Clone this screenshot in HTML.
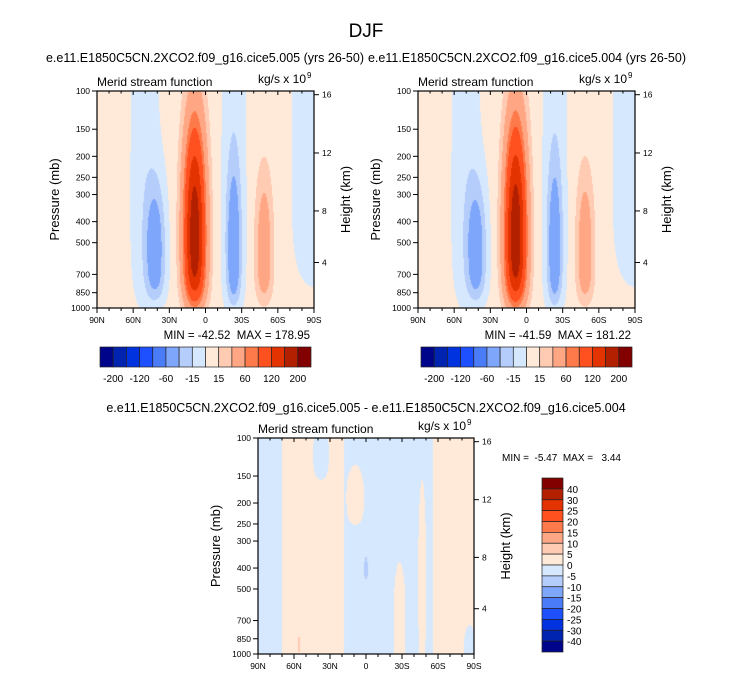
<!DOCTYPE html>
<html><head><meta charset="utf-8">
<style>
html,body{margin:0;padding:0;background:#fff;}
#wrap{position:relative;width:733px;height:678px;overflow:hidden;font-family:"Liberation Sans",Arial,sans-serif;}
canvas{position:absolute;}
svg{position:absolute;left:0;top:0;}
text{font-family:"Liberation Sans",Arial,sans-serif;fill:#000;white-space:pre;}
</style></head>
<body>
<div id="wrap">
<canvas id="c1" width="217" height="217" style="left:97px;top:91px"></canvas>
<canvas id="c2" width="217" height="217" style="left:418px;top:91px"></canvas>
<canvas id="c3" width="216" height="216" style="left:258px;top:438px"></canvas>
<svg id="svg" width="733" height="678" xmlns="http://www.w3.org/2000/svg">
<text x="366" y="37" font-size="19" text-anchor="middle">DJF</text>
<text x="205" y="62" font-size="12.5" text-anchor="middle">e.e11.E1850C5CN.2XCO2.f09_g16.cice5.005 (yrs 26-50)</text>
<text x="527" y="62" font-size="12.5" text-anchor="middle">e.e11.E1850C5CN.2XCO2.f09_g16.cice5.004 (yrs 26-50)</text>
<text x="366" y="412" font-size="12.5" text-anchor="middle">e.e11.E1850C5CN.2XCO2.f09_g16.cice5.005 - e.e11.E1850C5CN.2XCO2.f09_g16.cice5.004</text>
</svg>
</div>
<script>
// colour levels
const levelsMain = [-200,-160,-120,-80,-60,-30,-15,0,15,30,60,80,120,160,200];
const levelsDiff = [-40,-30,-25,-20,-15,-10,-5,0,5,10,15,20,25,30,40];
const mainLabels = ['-200','-120','-60','-15','15','60','120','200'];
const diffLabels = ['40','30','25','20','15','10','5','0','-5','-10','-15','-20','-25','-30','-40'];
const palette = ['#00048a','#0023b0','#0033e0','#1e50ff','#4a7cf8','#7ea6fa','#b4cdfb','#d6e8fd','#ffeada','#ffcbb2','#ffa784','#ff7a4a','#ff5020','#e23300','#b32000','#830000'];
const pressTicks = [100,150,200,250,300,400,500,700,850,1000];
const heightTicks = [16,12,8,4];
const heightPress = [104,193,357,617];
const latTicks = ['90N','60N','30N','0','30S','60S','90S'];

// panel 1 cells: lat centre, pressure-fraction centre, amplitude, widths
const p1Base = 5;
const p1Lat  = [9, 41.4, 50.4, -23.4, -23.4, -48.6, -90];
const p1Y    = [0.64, 0.72, 0.5, 0.72, 0.5, 0.72, 0.4];
const p1Amp  = [182, -46, -14, -44, -14, 42, -14];
const p1Sx   = [0.05, 0.045, 0.065, 0.033, 0.055, 0.04, 0.1];
const p1Su   = [0.5, 0.3, 2, 0.38, 2, 0.35, 2];
const p1Sd   = [0.34, 0.24, 0.5, 0.26, 0.5, 0.25, 0.5];

const p2Base = 5;
const p2Lat  = [9, 41.4, 50.4, -23.4, -23.4, -48.6, -90];
const p2Y    = [0.64, 0.72, 0.5, 0.72, 0.5, 0.72, 0.4];
const p2Amp  = [185, -45, -14, -43, -14, 43, -14];
const p2Sx   = [0.05, 0.045, 0.065, 0.033, 0.055, 0.04, 0.1];
const p2Su   = [0.5, 0.3, 2, 0.38, 2, 0.35, 2];
const p2Sd   = [0.34, 0.24, 0.5, 0.26, 0.5, 0.25, 0.5];

// panel 3: zonal bands + islands
const p3BandEdges = [90, 70.2, 18, -55.8, -90];
const p3BandVals  = [-2, 2, -2, 2];
const p3Lat  = [37.5, 9, -28, -46.8, 0, -86.4, 55.8];
const p3Y    = [0.05, 0.26, 0.8, 0.6, 0.6, 0.95, 0.95];
const p3Amp  = [-4.5, 4.5, 4.5, 4.5, -6, -4, 4];
const p3Sx   = [0.04, 0.045, 0.03, 0.02, 0.01, 0.03, 0.01];
const p3Su   = [0.12, 0.15, 0.25, 0.45, 0.06, 0.1, 0.06];
const p3Sd   = [0.15, 0.15, 0.3, 0.5, 0.06, 0.1, 0.06];

const latX = lat => (90 - lat) / 180;
function blobVal(x,y,lat,cy,A,sx,su,sd){
  let s=0;
  for(let k=0;k<lat.length;k++){
    const dx=(x-latX(lat[k]))/sx[k];
    const gx=Math.exp(-dx*dx);
    let gy;
    if(y<cy[k]){const d=(cy[k]-y)/su[k];gy=Math.exp(-d*d);}
    else{const d=(y-cy[k])/sd[k];gy=Math.exp(-d*d*d*d);}
    s+=A[k]*gx*gy;
  }
  return s;
}
function colorIdx(v,levels){let i=0;while(i<levels.length&&v>=levels[i])i++;return i;}
function hex(c){return [parseInt(c.substr(1,2),16),parseInt(c.substr(3,2),16),parseInt(c.substr(5,2),16)];}
const rgb=palette.map(hex);
function paint(id,fn,levels){
  const cv=document.getElementById(id),ctx=cv.getContext('2d');
  const W=cv.width,H=cv.height,img=ctx.createImageData(W,H);
  for(let j=0;j<H;j++)for(let i=0;i<W;i++){
    const v=fn((i+0.5)/W,(j+0.5)/H);
    const c=rgb[colorIdx(v,levels)],o=(j*W+i)*4;
    img.data[o]=c[0];img.data[o+1]=c[1];img.data[o+2]=c[2];img.data[o+3]=255;
  }
  ctx.putImageData(img,0,0);
}
paint('c1',(x,y)=>p1Base+blobVal(x,y,p1Lat,p1Y,p1Amp,p1Sx,p1Su,p1Sd),levelsMain);
paint('c2',(x,y)=>p2Base+blobVal(x,y,p2Lat,p2Y,p2Amp,p2Sx,p2Su,p2Sd),levelsMain);
paint('c3',(x,y)=>{
  const lat=90-x*180;let b=0;
  for(let k=0;k<p3BandVals.length;k++){if(lat<=p3BandEdges[k]&&lat>=p3BandEdges[k+1])b=p3BandVals[k];}
  return b+blobVal(x,y,p3Lat,p3Y,p3Amp,p3Sx,p3Su,p3Sd);
},levelsDiff);

const svg=document.getElementById('svg');
const NS='http://www.w3.org/2000/svg';
function el(tag,attrs,txt){const e=document.createElementNS(NS,tag);for(const k in attrs)e.setAttribute(k,attrs[k]);if(txt!==undefined)e.textContent=txt;svg.appendChild(e);return e;}
const py = p => Math.log10(p/100);

function axes(L,T,W,H,name){
  let r=el('rect',{x:L,y:T,width:W,height:H,fill:'none',stroke:'#000','stroke-width':1.2});
  
  
  let t=el('text',{x:L,y:T-5,'font-size':12},'Merid stream function');
  
  
  t=el('text',{x:L+W-8,y:T-8,'font-size':12,'text-anchor':'end'},'kg/s x 10');
  
  
  el('text',{x:L+W-7,y:T-13,'font-size':8},'9');
  pressTicks.forEach(p=>{
    const y=T+py(p)*H;
    el('line',{x1:L-5,y1:y,x2:L,y2:y,stroke:'#000'});
    const lt=el('text',{x:L-7,y:y+3,'font-size':8.5,'text-anchor':'end'},String(p));
    
    
  });
  t=el('text',{x:0,y:0,'font-size':13,'text-anchor':'middle',transform:`translate(${L-38},${T+H/2}) rotate(-90)`},'Pressure (mb)');
  
  
  t=el('text',{x:0,y:0,'font-size':13,'text-anchor':'middle',transform:`translate(${L+W+36},${T+H/2}) rotate(-90)`},'Height (km)');
  
  
  heightTicks.forEach((h,k)=>{
    const y=T+py(heightPress[k])*H;
    el('line',{x1:L+W,y1:y,x2:L+W+5,y2:y,stroke:'#000'});
    const lt=el('text',{x:L+W+8,y:y+3,'font-size':8.5},String(h));
    
    
  });
  for(let m=0;m<=18;m++){
    const x=L+m/18*W;const big=m%3===0;
    el('line',{x1:x,y1:T+H,x2:x,y2:T+H+(big?5:3),stroke:'#000'});
    el('line',{x1:x,y1:T,x2:x,y2:T+(big?4:2.5),stroke:'#000'});
  }
  latTicks.forEach((s,k)=>{
    const lt=el('text',{x:L+k/6*W,y:T+H+15,'font-size':8.5,'text-anchor':'middle'},s);
    
    
  });
}
function hbar(L,T,W,H,name){
  const bw=W/16;
  palette.forEach((c,k)=>{
    const r=el('rect',{x:L+k*bw,y:T,width:bw,height:H,fill:c,stroke:'#222','stroke-width':0.7});
    
    
  });
  mainLabels.forEach((s,k)=>{
    const lt=el('text',{x:L+(1+2*k)*bw,y:T+H+15,'font-size':10,'text-anchor':'middle'},s);
    
    
  });
}
axes(97,91,217,217,'panel1');
axes(418,91,217,217,'panel2');
axes(258,438,216,216,'panel3');
let s=el('text',{x:310,y:339,'font-size':11.5,'text-anchor':'end'},'MIN = -42.52  MAX = 178.95');


s=el('text',{x:631,y:339,'font-size':11.5,'text-anchor':'end'},'MIN = -41.59  MAX = 181.22');


s=el('text',{x:502,y:461,'font-size':10},'MIN =  -5.47  MAX =   3.44');


hbar(100,347,211,20,'panel1');
hbar(421,347,211,20,'panel2');
// vertical colorbar
const vb={L:542,T:478,W:21,H:174};const bh=vb.H/16;
palette.slice().reverse().forEach((c,k)=>{
  const r=el('rect',{x:vb.L,y:vb.T+k*bh,width:vb.W,height:bh,fill:c,stroke:'#222','stroke-width':0.7});
  
  
});
diffLabels.forEach((sLab,k)=>{
  const lt=el('text',{x:vb.L+vb.W+4,y:vb.T+(k+1)*bh+4,'font-size':10},sLab);
  
  
});
</script>
</body></html>
